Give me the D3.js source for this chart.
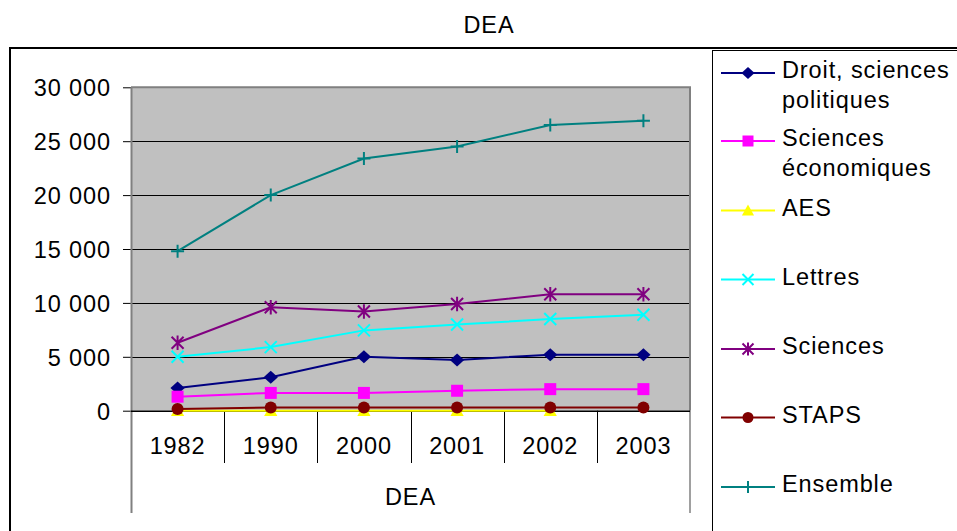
<!DOCTYPE html>
<html><head><meta charset="utf-8">
<script src="https://cdn.jsdelivr.net/npm/d3@7"></script>
<style>
html,body{margin:0;padding:0;background:#fff;}
svg{display:block;font-family:"Liberation Sans",Arial,sans-serif;}
</style></head>
<body>
<svg id="c" width="957" height="531"></svg>
<script>
const years = ["1982","1990","2000","2001","2002","2003"];
const yTicks = [0, 5000, 10000, 15000, 20000, 25000, 30000];
const seriesNames = ["Droit, sciences politiques","Sciences économiques","AES","Lettres","Sciences","STAPS","Ensemble"];
const legendLines = [["Droit, sciences","politiques"],["Sciences","économiques"],["AES"],["Lettres"],["Sciences"],["STAPS"],["Ensemble"]];
const droit = [2100, 3100, 5000, 4700, 5200, 5200];
const sciEco = [1300, 1650, 1650, 1850, 2000, 2000];
const aes = [0, 0, 0, 0, 0, null];
const lettres = [5000, 5900, 7450, 8000, 8500, 8900];
const sciences = [6300, 9600, 9200, 9900, 10800, 10800];
const staps = [150, 300, 300, 300, 300, 300];
const ensemble = [14800, 20000, 23400, 24500, 26500, 26900];
const seriesValues = [droit, sciEco, aes, lettres, sciences, staps, ensemble];
const colors = ["#000080","#FF00FF","#FFFF00","#00FFFF","#800080","#800000","#008080"];
const markers = ["diamond","square","triangle","times","asterisk","circle","plus"];

const svg = d3.select("#c");
const FS = 23.5, LS = "0.9px";

// outer chart border
svg.append("rect").attr("x",10).attr("y",48).attr("width",1200).attr("height",800)
  .attr("fill","none").attr("stroke","#000").attr("stroke-width",2);

// title
svg.append("text").attr("x",489).attr("y",32.5).attr("text-anchor","middle")
  .attr("font-size",FS).attr("letter-spacing",LS).text("DEA");

const L = 131, R = 690, T = 87.3, B = 410.7;
const x = d3.scaleBand().domain(years).range([L, R]).padding(0);
const y = d3.scaleLinear().domain([0, 30000]).range([B, T]);

// plot area
svg.append("rect").attr("x",L).attr("y",T).attr("width",R-L).attr("height",B-T)
  .attr("fill","#C0C0C0");

// gridlines
svg.append("g").selectAll("line").data(yTicks.filter(d=>d>0 && d<30000)).join("line")
  .attr("x1",L).attr("x2",R).attr("y1",d=>Math.round(y(d))+0.5).attr("y2",d=>Math.round(y(d))+0.5)
  .attr("stroke","#000").attr("stroke-width",1);

// plot border (gray) top & right
svg.append("path").attr("d",`M${L},${T}H${R}V${B}`).attr("fill","none")
  .attr("stroke","#808080").attr("stroke-width",2);

// y axis
const yAxis = d3.axisLeft(y).tickValues(yTicks).tickSize(8).tickPadding(12)
  .tickFormat(d => d3.format(",")(d).replace(/,/g," "));
const gy = svg.append("g").attr("transform",`translate(${L},0)`).call(yAxis);
gy.select(".domain").remove();
gy.selectAll(".tick line").attr("stroke","#000");
gy.selectAll(".tick text").attr("font-size",FS).attr("letter-spacing",LS)
  .attr("fill","#000").attr("font-family","Liberation Sans, Arial, sans-serif").attr("dy","0.36em");

// vertical axis line extending into category area
svg.append("line").attr("x1",L+0.5).attr("x2",L+0.5).attr("y1",T).attr("y2",513)
  .attr("stroke","#808080").attr("stroke-width",2);
svg.append("line").attr("x1",R).attr("x2",R).attr("y1",B).attr("y2",513)
  .attr("stroke","#808080").attr("stroke-width",1.5);

// x axis
svg.append("line").attr("x1",L).attr("x2",R).attr("y1",B+0.5).attr("y2",B+0.5)
  .attr("stroke","#000").attr("stroke-width",1.5);
svg.append("g").selectAll("line").data(years.slice(1)).join("line")
  .attr("x1",d=>Math.round(x(d))+0.5).attr("x2",d=>Math.round(x(d))+0.5)
  .attr("y1",B).attr("y2",463).attr("stroke","#000").attr("stroke-width",1);
svg.append("g").selectAll("text").data(years).join("text")
  .attr("x",d=>x(d)+x.bandwidth()/2).attr("y",453.5).attr("text-anchor","middle")
  .attr("font-size",FS).attr("letter-spacing",LS).text(d=>d);
svg.append("text").attr("x",(L+R)/2).attr("y",504.5).attr("text-anchor","middle")
  .attr("font-size",FS).attr("letter-spacing",LS).text("DEA");

function markerPath(type, s){
  switch(type){
    case "diamond": return `M0,${-s*0.5}L${s*0.55},0L0,${s*0.5}L${-s*0.55},0Z`;
    case "square": return `M${-s/2},${-s/2}h${s}v${s}h${-s}Z`;
    case "triangle": return `M0,${-s*0.55}L${s*0.55},${s*0.45}L${-s*0.55},${s*0.45}Z`;
    case "circle": return d3.symbol(d3.symbolCircle, Math.PI*(s/2)*(s/2))();
    case "times": { const h=s/2; return `M${-h},${-h}L${h},${h}M${-h},${h}L${h},${-h}`; }
    case "asterisk": { const h=s/2; return `M${-h},${-h}L${h},${h}M${-h},${h}L${h},${-h}M0,${-h*1.2}V${h*1.2}`; }
    case "plus": { const h=s/2; return `M${-h},0H${h}M0,${-h}V${h}`; }
  }
}
const filled = t => ["diamond","square","triangle","circle"].includes(t);
const mSize = {diamond:13, square:12, triangle:12, circle:12, times:12, asterisk:12, plus:13};

const line = d3.line().defined(d=>d.v!=null).x(d=>x(d.year)+x.bandwidth()/2).y(d=>y(d.v));
seriesValues.forEach((vals, i) => {
  const pts = years.map((yr, j) => ({year: yr, v: vals[j]}));
  const g = svg.append("g");
  g.append("path").datum(pts).attr("d", line).attr("fill","none")
    .attr("stroke", colors[i]).attr("stroke-width", 2);
  g.selectAll("path.m").data(pts.filter(d=>d.v!=null)).join("path").attr("class","m")
    .attr("transform", d=>`translate(${x(d.year)+x.bandwidth()/2},${y(d.v)})`)
    .attr("d", markerPath(markers[i], mSize[markers[i]]))
    .attr("fill", filled(markers[i]) ? colors[i] : "none")
    .attr("stroke", colors[i]).attr("stroke-width", filled(markers[i]) ? 0 : 2);
});

// legend
svg.append("rect").attr("x",712.5).attr("y",50.5).attr("width",400).attr("height",600)
  .attr("fill","#fff").attr("stroke","#000").attr("stroke-width",1);
const legY = [73, 141, 210.5, 279.5, 349, 417.5, 487];
const lg = svg.append("g");
seriesNames.forEach((name, i) => {
  const yy = legY[i];
  lg.append("line").attr("x1",721).attr("x2",775).attr("y1",yy).attr("y2",yy)
    .attr("stroke",colors[i]).attr("stroke-width",2);
  lg.append("path").attr("transform",`translate(748,${yy})`)
    .attr("d", markerPath(markers[i], mSize[markers[i]]-1))
    .attr("fill", filled(markers[i]) ? colors[i] : "none")
    .attr("stroke", colors[i]).attr("stroke-width", filled(markers[i]) ? 0 : 2);
  const t = lg.append("text").attr("x",782).attr("y",yy+5).attr("font-size",FS).attr("letter-spacing",LS);
  legendLines[i].forEach((ln, k) => {
    t.append("tspan").attr("x",782).attr("dy", k===0 ? 0 : 29.5).text(ln);
  });
});
</script>
</body></html>
